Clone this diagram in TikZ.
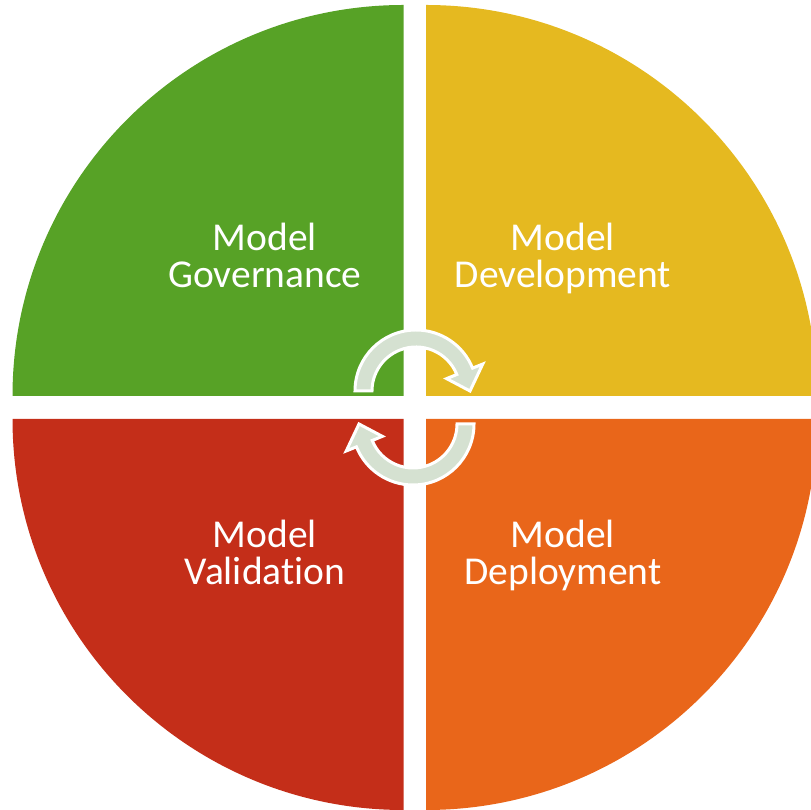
\documentclass[tikz,border=0pt]{standalone}
\usepackage{fontspec}
\setmainfont[Ligatures=NoCommon]{Carlito}
\definecolor{qgreen}{RGB}{87,162,38}
\definecolor{qyellow}{RGB}{229,185,32}
\definecolor{qred}{RGB}{196,46,25}
\definecolor{qorange}{RGB}{233,102,26}
\definecolor{arrowgray}{RGB}{213,225,209}
\begin{document}
\begin{tikzpicture}[x=1pt,y=1pt,
  lbl/.style={anchor=base,text=white,inner sep=0pt,font=\fontsize{39.5}{37}\selectfont},
  cyc/.style={fill=arrowgray,draw=white,line width=3pt,line join=miter}]
\useasboundingbox (0,0) rectangle (811,810);
\clip (0,0) rectangle (811,810);
% quadrants
\fill[qgreen]  (403.5,414) -- ++(-391,0) arc[start angle=180,end angle=90,radius=391] -- cycle;
\fill[qyellow] (426,414) -- ++(0,391) arc[start angle=90,end angle=0,radius=391] -- cycle;
\fill[qred]    (403.5,391) -- ++(-391,0) arc[start angle=180,end angle=270,radius=391] -- cycle;
\fill[qorange] (426,391) -- ++(0,-391) arc[start angle=270,end angle=360,radius=391] -- cycle;
% circular arrows
\begin{scope}[shift={(416,419)}]
  \filldraw[cyc] (180:61) arc[start angle=180,end angle=22,radius=61] -- (22:72) -- (0:54) -- (22:33) -- (22:44) arc[start angle=22,end angle=180,radius=44] -- cycle;
\end{scope}
\begin{scope}[shift={(413,386)},rotate=180]
  \filldraw[cyc] (180:61) arc[start angle=180,end angle=22,radius=61] -- (22:72) -- (0:54) -- (22:33) -- (22:44) arc[start angle=22,end angle=180,radius=44] -- cycle;
\end{scope}
% labels
\node[lbl] (gov1) at (265,559) {Model};
\node[lbl] (gov2) at (265,522) {Governance};
\node[lbl] (dev1) at (563,559) {Model};
\node[lbl] (dev2) at (563,522) {Development};
\node[lbl] (val1) at (265,262) {Model};
\node[lbl] (val2) at (265,225) {Validation};
\node[lbl] (dep1) at (563,262) {Model};
\node[lbl] (dep2) at (563,225) {Deployment};
\end{tikzpicture}
\end{document}
